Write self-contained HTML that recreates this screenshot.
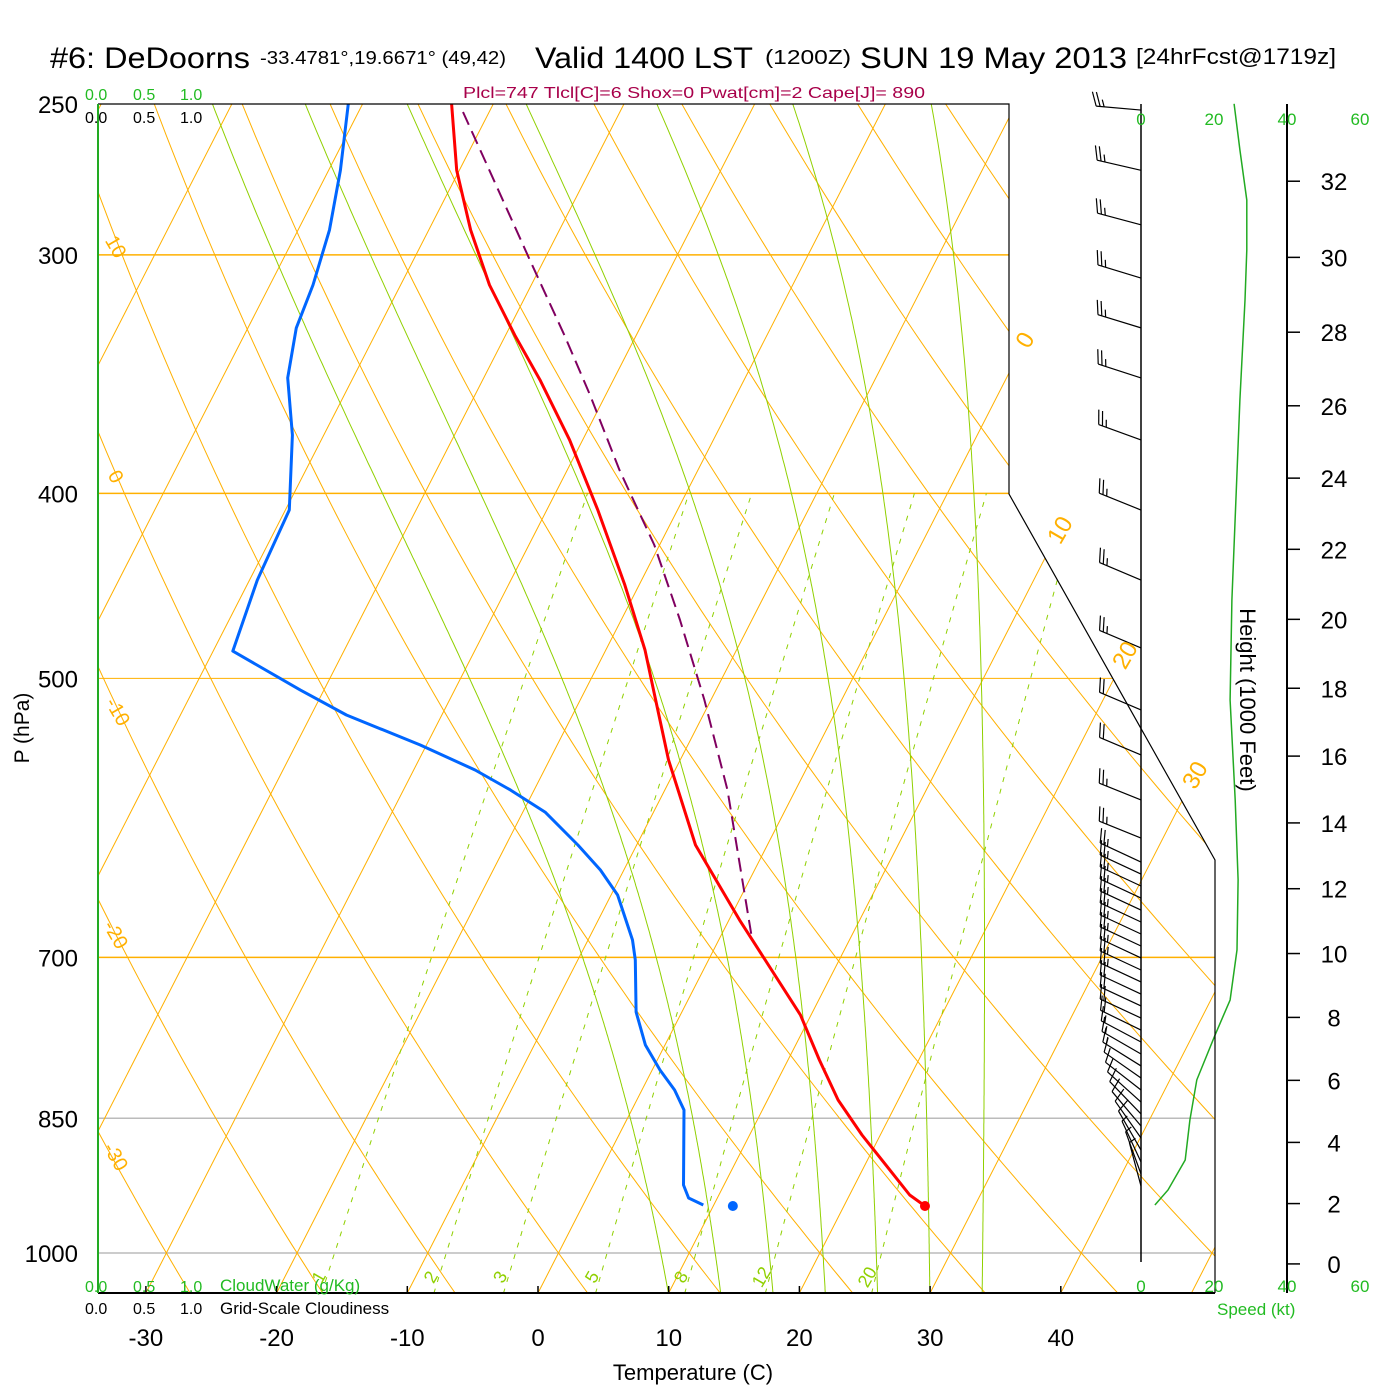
<!DOCTYPE html>
<html><head><meta charset="utf-8"><title>Sounding DeDoorns</title>
<style>
html,body{margin:0;padding:0;background:#fff;}
svg{display:block;font-family:"Liberation Sans",sans-serif;}
</style></head>
<body>
<svg id="chart" width="1400" height="1400" viewBox="0 0 1400 1400" xmlns="http://www.w3.org/2000/svg">
<defs>
<clipPath id="plotclip"><polygon points="98,104 1009,104 1009,494 1215,860 1215,1293 98,1293"/></clipPath>
</defs>
<rect x="0" y="0" width="1400" height="1400" fill="#fff"/>
<g id="bg" clip-path="url(#plotclip)"></g>
<g id="data"></g>
<g id="frame" fill="none" stroke="#000" stroke-width="1.2">
<polyline points="98,104 1009,104 1009,494 1215,860 1215,1293"/>
<line x1="98" y1="1293" x2="1215" y2="1293" stroke-width="2"/>
<line x1="98" y1="104" x2="98" y2="1293" stroke="#22aa22" stroke-width="2"/>
<line x1="1141" y1="104" x2="1141" y2="1262" stroke-width="1.5"/>
<line x1="1287" y1="104" x2="1287" y2="1293" stroke-width="2"/>
</g>
<g id="winds" stroke="#000" stroke-width="1.2" fill="none"></g>
<g id="texts" font-family="Liberation Sans, sans-serif">
<text x="50" y="68" font-size="30" textLength="200" lengthAdjust="spacingAndGlyphs">#6: DeDoorns</text>
<text x="260" y="64" font-size="18" textLength="246" lengthAdjust="spacingAndGlyphs">-33.4781°,19.6671° (49,42)</text>
<text x="535" y="68" font-size="30" textLength="218" lengthAdjust="spacingAndGlyphs">Valid 1400 LST</text>
<text x="765" y="64" font-size="20" textLength="86" lengthAdjust="spacingAndGlyphs">(1200Z)</text>
<text x="860" y="68" font-size="30" textLength="267" lengthAdjust="spacingAndGlyphs">SUN 19 May 2013</text>
<text x="1136" y="64" font-size="22" textLength="200" lengthAdjust="spacingAndGlyphs">[24hrFcst@1719z]</text>
<text x="694" y="98" font-size="16" fill="#a8004a" text-anchor="middle" textLength="462" lengthAdjust="spacingAndGlyphs">Plcl=747 Tlcl[C]=6 Shox=0 Pwat[cm]=2 Cape[J]= 890</text>
<g font-size="16" fill="#22bb22">
<text x="85" y="100">0.0</text><text x="133" y="100">0.5</text><text x="180" y="100">1.0</text></g>
<g font-size="16" fill="#000">
<text x="85" y="123">0.0</text><text x="133" y="123">0.5</text><text x="180" y="123">1.0</text></g>
<g font-size="16" fill="#22bb22">
<text x="85" y="1292">0.0</text><text x="133" y="1292">0.5</text><text x="180" y="1292">1.0</text><text x="220" y="1291" font-size="17">CloudWater (g/Kg)</text></g>
<g font-size="16" fill="#000">
<text x="85" y="1314">0.0</text><text x="133" y="1314">0.5</text><text x="180" y="1314">1.0</text><text x="220" y="1314" font-size="17">Grid-Scale Cloudiness</text></g>
<text transform="translate(29,728) rotate(-90)" font-size="21" text-anchor="middle">P (hPa)</text>
<text x="693" y="1380" font-size="22" text-anchor="middle">Temperature (C)</text>
<text transform="translate(1240,700) rotate(90)" font-size="22" text-anchor="middle">Height (1000 Feet)</text>
<text x="1217" y="1315" font-size="17" fill="#22bb22">Speed (kt)</text>
</g>
<g id="axes"></g>
</svg>
<script>
// ---- data arrays ----
const tempP = [250,270.9,291.1,311.1,330.5,348.9,375,408.1,446.7,483.2,510.2,551.6,611.3,669.1,750.5,792.3,831.5,867.3,932.4,944.9];
const tempT = [-53.2,-50.2,-46.8,-43.2,-39.3,-35.6,-31.0,-26.1,-21.1,-17.0,-14.5,-10.9,-5.5,0.8,9.2,12.4,15.4,18.6,24.6,26.2];
const dewP = [250,270.9,291.1,311.1,327.6,348,372.8,408.1,444.1,483.8,507.1,522.6,541.8,558.4,572.1,587.5,611.3,630,649.3,685.5,702.3,747.7,778.1,801.9,821.5,841.6,921.3,935.8,943.7];
const dewT = [-61.1,-59.1,-57.6,-56.7,-56.3,-55.0,-52.4,-49.7,-49.4,-48.5,-41.8,-37.3,-30.5,-25.3,-21.8,-18.3,-14.5,-11.8,-9.5,-6.6,-5.6,-3.5,-1.5,0.6,2.5,4.0,6.9,7.8,9.2];
const parcelP = [252.5,270.9,301.8,330.5,355.2,388.9,425.7,466,513.2,572.1,681.4];
const parcelT = [-52.0,-47.7,-41.1,-35.5,-31.2,-26.0,-20.4,-15.5,-10.5,-5.2,2.3];
const surfaceP = 944.9, surfaceT = 26.2, surfaceTd = 11.5;
const pressureTicks = [250,300,400,500,700,850,1000];
const tempTicks = [-30,-20,-10,0,10,20,30,40];
const heightTicks = [0,2,4,6,8,10,12,14,16,18,20,22,24,26,28,30,32];
const speedTicks = [0,20,40,60];
const mixRatios = [1,2,3,5,8,12,20];
const moistBase = [10,14,18,22,26,30,34];
const moistTop = [-71.5,-64.4,-56.6,-47.5,-37.5,-27.1,-16.5];
const windP = [251.9,270.9,289.3,308.5,327.6,348,375,408.1,444.1,482,519.4,548.4,579,606.2,624,633.1,642.3,651.7,661.2,670.8,680.6,690.5,700.5,710.8,721.1,731.7,742.3,753.2,764.2,775.3,786.6,798,809.7,821.5,833.5,845.6,858,870.5,883.2,896,909.1,922.4];
const windDir = [275,283,285,287,287,288,290,292,293,293,293,293,292,292,295,295,295,295,295,295,295,295,295,295,295,295,295,295,296,298,300,302,305,308,312,316,320,325,330,335,340,345];
const windSpd = [25,27,28,28,27,27,27,26,25,25,24,24,25,25,26,26,26,26,26,26,26,26,25,25,25,24,24,23,21,19,17,15,14,13,13,13,12,12,11,9,7,5];
const speedP = [250,264.3,280.8,298.2,316.8,357.4,403.2,454.9,513.2,579,637.6,693.8,737,768.7,811.6,851.8,893.9,926.8,943.7];
const speedV = [25.5,27.1,29.0,29.0,28.5,27.1,26.0,24.9,24.4,25.8,26.6,26.3,24.4,20.3,15.3,13.4,12.1,7.4,3.8];

// ---- axis functions ----
const NS="http://www.w3.org/2000/svg";
function yOf(p){return 1253-829*Math.log(1000/p);}
function xOf(T,p){return 538+13.07*T+0.512*(1293-yOf(p));}
function spdX(s){return 1141+3.65*s;}
function mk(tag,attrs,parent){const e=document.createElementNS(NS,tag);for(const k in attrs)e.setAttribute(k,attrs[k]);parent.appendChild(e);return e;}
const bg=document.getElementById('bg'), dg=document.getElementById('data'), ax=document.getElementById('axes'), wg=document.getElementById('winds');
function path(pts){return pts.map((q,i)=>(i?'L':'M')+q[0].toFixed(1)+' '+q[1].toFixed(1)).join(' ');}

// pressure lines
pressureTicks.forEach(p=>{
  const orange=(p===300||p===400||p===500||p===700);
  const l=mk('line',{x1:98,x2:1215,y1:yOf(p),y2:yOf(p),stroke:orange?'#ffb000':'#bbbbbb','stroke-width':p===500?1:1.5},bg);
  
  
});
// isotherms
for(let T=-110;T<=50;T+=10){
  const l=mk('line',{x1:xOf(T,1050),y1:yOf(1050),x2:xOf(T,240),y2:yOf(240),stroke:'#ffb000','stroke-width':1},bg);
  
  
}
// dry adiabats
for(let th=-40;th<=180;th+=10){
  const pts=[];for(let p=1050;p>=240;p-=10){const T=(th+273.15)*Math.pow(p/1000,0.286)-273.15;pts.push([xOf(T,p),yOf(p)]);}
  const e=mk('path',{d:path(pts),stroke:'#ffb000','stroke-width':1,fill:'none'},bg);
  
  
}
// moist adiabats (pseudo-adiabat shape, matched to chart's end temps)
function es(Tc){return 6.112*Math.exp(17.67*Tc/(Tc+243.5));}
moistBase.forEach((T0,i)=>{
  let T=T0+273.15,p=1050;const raw=[[p,T0]];
  while(p>250){const Tc=T-273.15;const e=es(Tc);const rs=0.622*e/(p-e);
    const dTdp=(287*T+2.5e6*rs)/(1004+2.5e6*2.5e6*rs*0.622/(287*T*T))/p;
    T-=dTdp*2;p-=2;raw.push([p,T-273.15]);}
  const err=moistTop[i]-raw[raw.length-1][1];
  const span=Math.log(1050/250);
  const pts=raw.map(r=>{const f=Math.log(1050/r[0])/span;return [xOf(r[1]+err*f,r[0]),yOf(r[0])];});
  const e=mk('path',{d:path(pts),stroke:'#90d000','stroke-width':1,fill:'none'},bg);
  
  
});
// mixing ratio lines
mixRatios.forEach(w=>{
  const pts=[];for(let p=1050;p>=400;p-=10){const e=w*p/(622+w);const L=Math.log(e/6.112);const Td=243.5*L/(17.67-L);pts.push([xOf(Td,p),yOf(p)]);}
  const e=mk('path',{d:path(pts),stroke:'#90d000','stroke-width':1,fill:'none','stroke-dasharray':'5,7'},bg);
  
  
  const pl=1025;const ee=w*pl/(622+w);const L=Math.log(ee/6.112);const Td=243.5*L/(17.67-L);
  const lx=xOf(Td,pl)-4, ly=1280;
  const t=mk('text',{x:lx,y:ly,'font-size':18,fill:'#90d000','text-anchor':'middle',transform:'rotate(-60 '+lx+' '+ly+')'},ax);
  t.textContent=w;
  
  
});
// isotherm / adiabat labels
[[0,1025,340],[10,1060,530],[20,1125,655],[30,1195,775]].forEach(a=>{
  const t=mk('text',{x:a[1],y:a[2]+8,'font-size':24,fill:'#ffb000','text-anchor':'middle',transform:'rotate(-60 '+a[1]+' '+a[2]+')'},ax);
  t.textContent=a[0];
  
  
});
[[10,110,250],[0,110,480],[-10,112,715],[-20,110,938],[-30,110,1160]].forEach(a=>{
  const t=mk('text',{x:a[1],y:a[2],'font-size':20,fill:'#ffb000','text-anchor':'middle',transform:'rotate(60 '+a[1]+' '+a[2]+')'},ax);
  t.textContent=a[0];
  
  
});

// sounding lines
function series(P,T,color,w,dash,name){
  const pts=P.map((p,i)=>[xOf(T[i],p),yOf(p)]);
  const e=mk('path',{d:path(pts),stroke:color,'stroke-width':w,fill:'none','stroke-linejoin':'round'},dg);
  if(dash)e.setAttribute('stroke-dasharray',dash);
  
  
}
series(parcelP,parcelT,'#800060',2,'14,7','parcel-line');
series(dewP,dewT,'#0066ff',3,null,'dewpoint-line');
series(tempP,tempT,'#ff0000',3,null,'temperature-line');
let c=mk('circle',{cx:xOf(surfaceT,surfaceP),cy:yOf(surfaceP),r:5,fill:'#ff0000'},dg);


c=mk('circle',{cx:xOf(surfaceTd,surfaceP),cy:yOf(surfaceP),r:5,fill:'#0066ff'},dg);



// speed profile
const sp=mk('path',{d:path(speedP.map((p,i)=>[spdX(speedV[i]),yOf(p)])),stroke:'#22aa22','stroke-width':1.5,fill:'none'},dg);



// wind barbs
windP.forEach((p,i)=>{
  const d=windDir[i]*Math.PI/180,L=45;
  const sx=Math.sin(d),sy=-Math.cos(d);
  const bx=1141,by=yOf(p);
  const tx=bx+sx*L,ty=by+sy*L;
  const g=mk('g',{},wg);
  
  
  mk('line',{x1:bx,y1:by,x2:tx,y2:ty},g);
  const px=-sy,py=sx;
  let s=windSpd[i],k=0;
  let full=Math.floor(s/10),half=(s%10)>=5?1:0;
  for(let j=0;j<full;j++){const ox=tx-sx*k*4,oy=ty-sy*k*4;mk('line',{x1:ox,y1:oy,x2:ox+(px*14+sx*5),y2:oy+(py*14+sy*5)},g);k++;}
  if(half){const ox=tx-sx*k*4,oy=ty-sy*k*4;mk('line',{x1:ox,y1:oy,x2:ox+(px*7+sx*2.5),y2:oy+(py*7+sy*2.5)},g);}
});

// axis labels
pressureTicks.forEach(p=>{
  const t=mk('text',{x:78,y:yOf(p)+9,'font-size':24,'text-anchor':'end'},ax);
  t.textContent=p;
  
  
});
tempTicks.forEach(T=>{
  const x=538+13.07*T;
  const l=mk('line',{x1:x,x2:x,y1:1286,y2:1293,stroke:'#000','stroke-width':1.5},ax);
  
  
  const t=mk('text',{x:x,y:1346,'font-size':24,'text-anchor':'middle'},ax);
  t.textContent=T;
  
  
});
heightTicks.forEach(h=>{
  const z=h*1000;const p=1013.25*Math.pow(1-6.8756e-6*z,5.2559);const y=yOf(p);
  const l=mk('line',{x1:1287,x2:1300,y1:y,y2:y,stroke:'#000','stroke-width':1.5},ax);
  
  
  const t=mk('text',{x:1334,y:y+9,'font-size':24,'text-anchor':'middle'},ax);
  t.textContent=h;
  
  
});
speedTicks.forEach(s=>{
  [125,1292].forEach(y=>{
    const t=mk('text',{x:spdX(s),y:y,'font-size':17,fill:'#22bb22','text-anchor':'middle'},ax);
    t.textContent=s;
    
    
  });
});
</script>
</body></html>
